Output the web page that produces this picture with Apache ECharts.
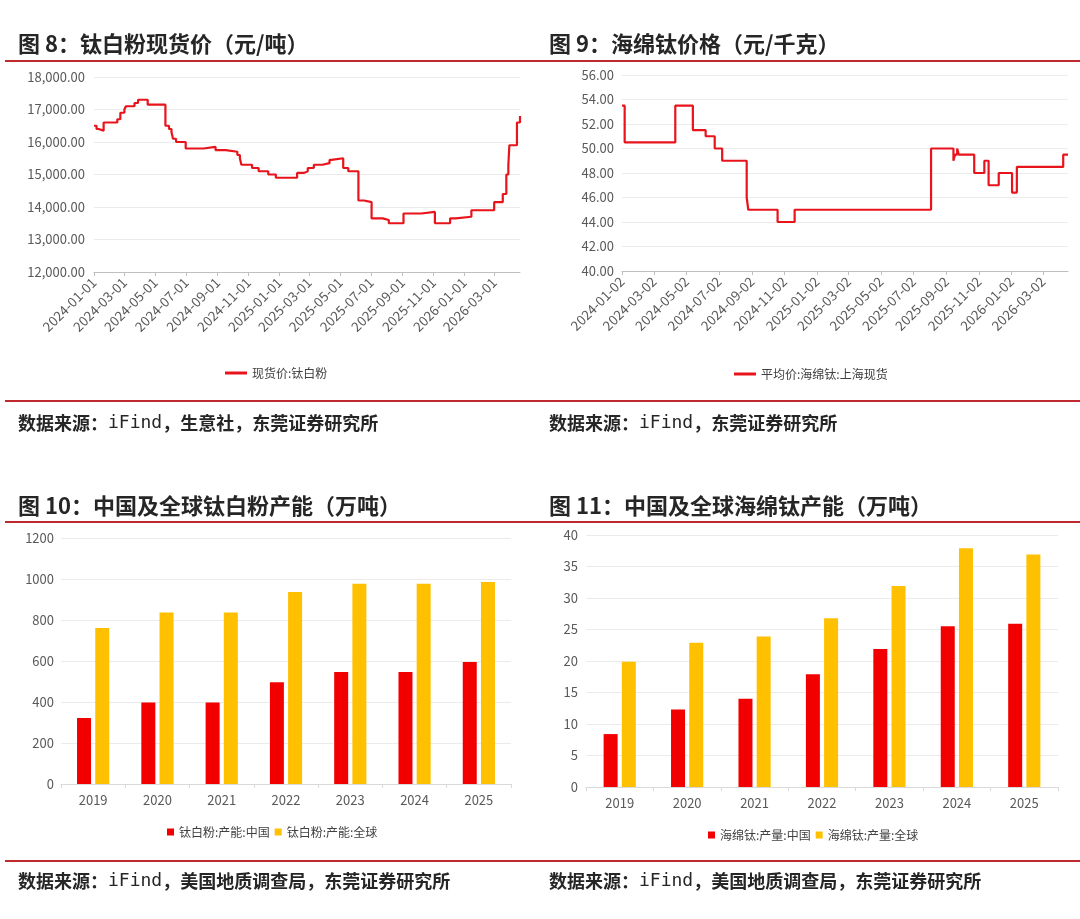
<!DOCTYPE html>
<html style="height: 100%">
  <head>
    <meta charset="utf-8" />
  </head>
  <body style="height: 100%; margin: 0; background: #fff">
    <div id="container" style="width: 1080px; height: 919px"></div>

    <script
      type="text/javascript"
      src="https://cdn.jsdelivr.net/npm/echarts@6/dist/echarts.min.js"
    ></script>

    <script type="text/javascript">
      var dom = document.getElementById("container");
      var myChart = echarts.init(dom);

      // 图8 钛白粉现货价 (元/吨), change points of the step line
      var tio2Dates = [
        "2024-01-01", "2024-01-06", "2024-01-10", "2024-01-20", "2024-02-16", "2024-02-22",
        "2024-03-01", "2024-03-04", "2024-03-21", "2024-03-28", "2024-04-16", "2024-05-21",
        "2024-05-28", "2024-06-02", "2024-06-05", "2024-06-11", "2024-06-30", "2024-08-04",
        "2024-08-28", "2024-09-17", "2024-10-10", "2024-10-15", "2024-10-18", "2024-11-08",
        "2024-11-21", "2024-12-10", "2024-12-25", "2025-02-05", "2025-02-19", "2025-02-26",
        "2025-03-10", "2025-03-27", "2025-04-10", "2025-04-14", "2025-05-07", "2025-05-17",
        "2025-06-06", "2025-06-17", "2025-07-02", "2025-07-24", "2025-08-05", "2025-09-03",
        "2025-10-08", "2025-11-04", "2025-12-04", "2025-12-15", "2026-01-15", "2026-03-01",
        "2026-03-18", "2026-03-25", "2026-03-29", "2026-03-31", "2026-04-15", "2026-04-21"
      ];
      var tio2Prices = [
        16500, 16400, 16350, 16600, 16700, 16900,
        17000, 17100, 17200, 17300, 17150, 16500,
        16400, 16300, 16100, 16000, 15800, 15850,
        15750, 15700, 15600, 15500, 15300, 15200,
        15100, 15000, 14900, 15050, 15100, 15200,
        15300, 15350, 15450, 15500, 15200, 15100,
        14200, 14150, 13650, 13600, 13500, 13800,
        13850, 13500, 13650, 13700, 13900, 14150,
        14400, 15000, 15300, 15900, 16600, 16800
      ];
      var tio2Ticks = [
        "2024-01-01", "2024-03-01", "2024-05-01", "2024-07-01", "2024-09-01", "2024-11-01",
        "2025-01-01", "2025-03-01", "2025-05-01", "2025-07-01", "2025-09-01", "2025-11-01",
        "2026-01-01", "2026-03-01"
      ];

      // 图9 海绵钛价格 (元/千克)
      var spongeDates = [
        "2024-01-02", "2024-01-07", "2024-04-11", "2024-05-14", "2024-06-07", "2024-06-24",
        "2024-07-08", "2024-08-23", "2024-08-26", "2024-10-20", "2024-11-21", "2025-08-04",
        "2025-09-15", "2025-09-18", "2025-09-22", "2025-09-25", "2025-10-24", "2025-11-12",
        "2025-11-20", "2025-12-09", "2026-01-03", "2026-01-12", "2026-04-09", "2026-04-18"
      ];
      var spongePrices = [
        53.5, 50.5, 53.5, 51.5, 51.0, 50.0,
        49.0, 46.0, 45.0, 44.0, 45.0, 50.0,
        49.0, 49.5, 50.0, 49.5, 48.0, 49.0,
        47.0, 48.0, 46.4, 48.5, 49.5, 49.5
      ];
      var spongeTicks = [
        "2024-01-02", "2024-03-02", "2024-05-02", "2024-07-02", "2024-09-02", "2024-11-02",
        "2025-01-02", "2025-03-02", "2025-05-02", "2025-07-02", "2025-09-02", "2025-11-02",
        "2026-01-02", "2026-03-02"
      ];

      // 图10 / 图11 产能
      var years = ["2019", "2020", "2021", "2022", "2023", "2024", "2025"];
      var tio2CapChina = [322, 397, 397, 496, 546, 546, 595];
      var tio2CapWorld = [761, 837, 837, 937, 977, 977, 985];
      var spongeChina = [8.4, 12.3, 14.0, 17.9, 21.9, 25.5, 25.9];
      var spongeWorld = [19.9, 22.9, 23.9, 26.8, 31.9, 37.9, 36.9];

      var FONT = '"Noto Sans CJK SC", "Noto Sans", sans-serif';
      var LABEL_COLOR = "#595959";
      var RED = "#e8141c";
      var BAR_RED = "#f20000";
      var BAR_YELLOW = "#ffc000";
      var RULE = "#be2a2f";

      // dates as UTC timestamps on a plain value axis
      function ts(s) {
        var p = s.split("-");
        return Date.UTC(+p[0], +p[1] - 1, +p[2]);
      }
      function pad(n) {
        return n < 10 ? "0" + n : "" + n;
      }
      function fmtDate(v) {
        var d = new Date(v);
        return d.getUTCFullYear() + "-" + pad(d.getUTCMonth() + 1) + "-" + pad(d.getUTCDate());
      }
      function zip(a, b) {
        return a.map(function (x, i) {
          return [ts(x), b[i]];
        });
      }

      var grids = [
        { left: 94, right: 560, top: 77, bottom: 647 },
        { left: 622, right: 12, top: 75, bottom: 648 },
        { left: 61, right: 569, top: 538, bottom: 135 },
        { left: 586, right: 22, top: 535, bottom: 132 }
      ];
      grids.forEach(function (g) {
        g.outerBoundsMode = "none";
      });

      function dateAxis(idx, min, max, ticks) {
        var vals = ticks.map(ts);
        return {
          type: "value",
          gridIndex: idx,
          min: ts(min),
          max: ts(max),
          scale: true,
          axisLine: { show: true, onZero: false, lineStyle: { color: "#bfbfbf", width: 1 } },
          axisTick: {
            show: true,
            length: 4,
            lineStyle: { color: "#bfbfbf" },
            customValues: vals
          },
          axisLabel: {
            customValues: vals,
            rotate: 45,
            color: LABEL_COLOR,
            fontSize: 13.5,
            fontFamily: FONT,
            margin: 8,
            hideOverlap: false,
            formatter: function (v) {
              return fmtDate(v);
            }
          },
          splitLine: { show: false }
        };
      }

      function catAxis(idx) {
        return {
          type: "category",
          gridIndex: idx,
          data: years,
          axisLine: { lineStyle: { color: "#d9d9d9" } },
          axisTick: { show: true, length: 4, lineStyle: { color: "#d9d9d9" } },
          axisLabel: { color: LABEL_COLOR, fontSize: 13, fontFamily: FONT, margin: 10 }
        };
      }

      function valAxis(idx, min, max, interval, fmt, margin) {
        return {
          type: "value",
          gridIndex: idx,
          min: min,
          max: max,
          interval: interval,
          axisLine: { show: false },
          axisTick: { show: false },
          splitLine: { lineStyle: { color: "#ebebeb", width: 1 } },
          axisLabel: {
            color: LABEL_COLOR,
            fontSize: 13,
            fontFamily: FONT,
            margin: margin,
            formatter: fmt
          }
        };
      }

      function plain(v) {
        return String(v);
      }

      var legendText = { color: "#404040", fontSize: 12, fontFamily: FONT };

      function hline(x1, x2, y) {
        return {
          type: "line",
          shape: { x1: x1, y1: y, x2: x2, y2: y },
          style: { stroke: RULE, lineWidth: 2 }
        };
      }
      function heading(x, y, text) {
        return {
          type: "text",
          x: x,
          y: y,
          style: {
            text: text,
            fill: "#262626",
            fontSize: 22,
            fontWeight: "bold",
            fontFamily: FONT,
            verticalAlign: "middle"
          }
        };
      }
      function source(x, y, text) {
        return {
          type: "text",
          x: x,
          y: y,
          style: {
            text: text,
            fill: "#262626",
            fontSize: 18,
            fontWeight: "bold",
            fontFamily: FONT,
            verticalAlign: "middle",
            rich: {
              m: {
                fontFamily: '"DejaVu Sans Mono", monospace',
                fontSize: 18,
                fill: "#262626"
              }
            }
          }
        };
      }

      var option = {
        backgroundColor: "#fff",
        animation: false,
        grid: grids,
        xAxis: [
          dateAxis(0, "2024-01-01", "2026-04-21", tio2Ticks),
          dateAxis(1, "2024-01-02", "2026-04-18", spongeTicks),
          catAxis(2),
          catAxis(3)
        ],
        yAxis: [
          valAxis(0, 12000, 18000, 1000, function (v) {
            return v.toLocaleString("en-US", { minimumFractionDigits: 2, maximumFractionDigits: 2 });
          }, 9),
          valAxis(1, 40, 56, 2, function (v) {
            return v.toFixed(2);
          }, 8),
          valAxis(2, 0, 1200, 200, plain, 7),
          valAxis(3, 0, 40, 5, plain, 8)
        ],
        legend: [
          {
            left: 220,
            top: 362,
            icon: "rect",
            itemWidth: 22,
            itemHeight: 3,
            itemGap: 5,
            textStyle: legendText,
            data: ["现货价:钛白粉"]
          },
          {
            left: 729,
            top: 363,
            icon: "rect",
            itemWidth: 22,
            itemHeight: 3,
            itemGap: 5,
            textStyle: legendText,
            data: ["平均价:海绵钛:上海现货"]
          },
          {
            left: 162,
            top: 821,
            icon: "rect",
            itemWidth: 7,
            itemHeight: 7,
            itemGap: 5,
            textStyle: legendText,
            data: ["钛白粉:产能:中国", "钛白粉:产能:全球"]
          },
          {
            left: 703,
            top: 824,
            icon: "rect",
            itemWidth: 7,
            itemHeight: 7,
            itemGap: 5,
            textStyle: legendText,
            data: ["海绵钛:产量:中国", "海绵钛:产量:全球"]
          }
        ],
        series: [
          {
            name: "现货价:钛白粉",
            type: "line",
            xAxisIndex: 0,
            yAxisIndex: 0,
            step: "end",
            showSymbol: false,
            symbol: "none",
            color: RED,
            lineStyle: { width: 2.2, color: RED },
            data: zip(tio2Dates, tio2Prices)
          },
          {
            name: "平均价:海绵钛:上海现货",
            type: "line",
            xAxisIndex: 1,
            yAxisIndex: 1,
            step: "end",
            showSymbol: false,
            symbol: "none",
            color: RED,
            lineStyle: { width: 2.2, color: RED },
            data: zip(spongeDates, spongePrices)
          },
          {
            name: "钛白粉:产能:中国",
            type: "bar",
            xAxisIndex: 2,
            yAxisIndex: 2,
            barWidth: 14,
            barGap: "30%",
            itemStyle: { color: BAR_RED },
            data: tio2CapChina
          },
          {
            name: "钛白粉:产能:全球",
            type: "bar",
            xAxisIndex: 2,
            yAxisIndex: 2,
            barWidth: 14,
            barGap: "30%",
            itemStyle: { color: BAR_YELLOW },
            data: tio2CapWorld
          },
          {
            name: "海绵钛:产量:中国",
            type: "bar",
            xAxisIndex: 3,
            yAxisIndex: 3,
            barWidth: 14,
            barGap: "30%",
            itemStyle: { color: BAR_RED },
            data: spongeChina
          },
          {
            name: "海绵钛:产量:全球",
            type: "bar",
            xAxisIndex: 3,
            yAxisIndex: 3,
            barWidth: 14,
            barGap: "30%",
            itemStyle: { color: BAR_YELLOW },
            data: spongeWorld
          }
        ],
        graphic: [
          heading(18, 44, "图 8：钛白粉现货价（元/吨）"),
          heading(549, 44, "图 9：海绵钛价格（元/千克）"),
          heading(18, 506, "图 10：中国及全球钛白粉产能（万吨）"),
          heading(549, 506, "图 11：中国及全球海绵钛产能（万吨）"),
          hline(5, 540, 61),
          hline(540, 1080, 61),
          hline(5, 540, 401),
          hline(540, 1080, 401),
          hline(5, 540, 522),
          hline(540, 1080, 522),
          hline(5, 540, 861),
          hline(540, 1080, 861),
          source(18, 423, "数据来源：{m|iFind}，生意社，东莞证券研究所"),
          source(549, 423, "数据来源：{m|iFind}，东莞证券研究所"),
          source(18, 881, "数据来源：{m|iFind}，美国地质调查局，东莞证券研究所"),
          source(549, 881, "数据来源：{m|iFind}，美国地质调查局，东莞证券研究所")
        ]
      };

      if (option && typeof option === "object") {
        myChart.setOption(option);
      }
    </script>
  </body>
</html>
